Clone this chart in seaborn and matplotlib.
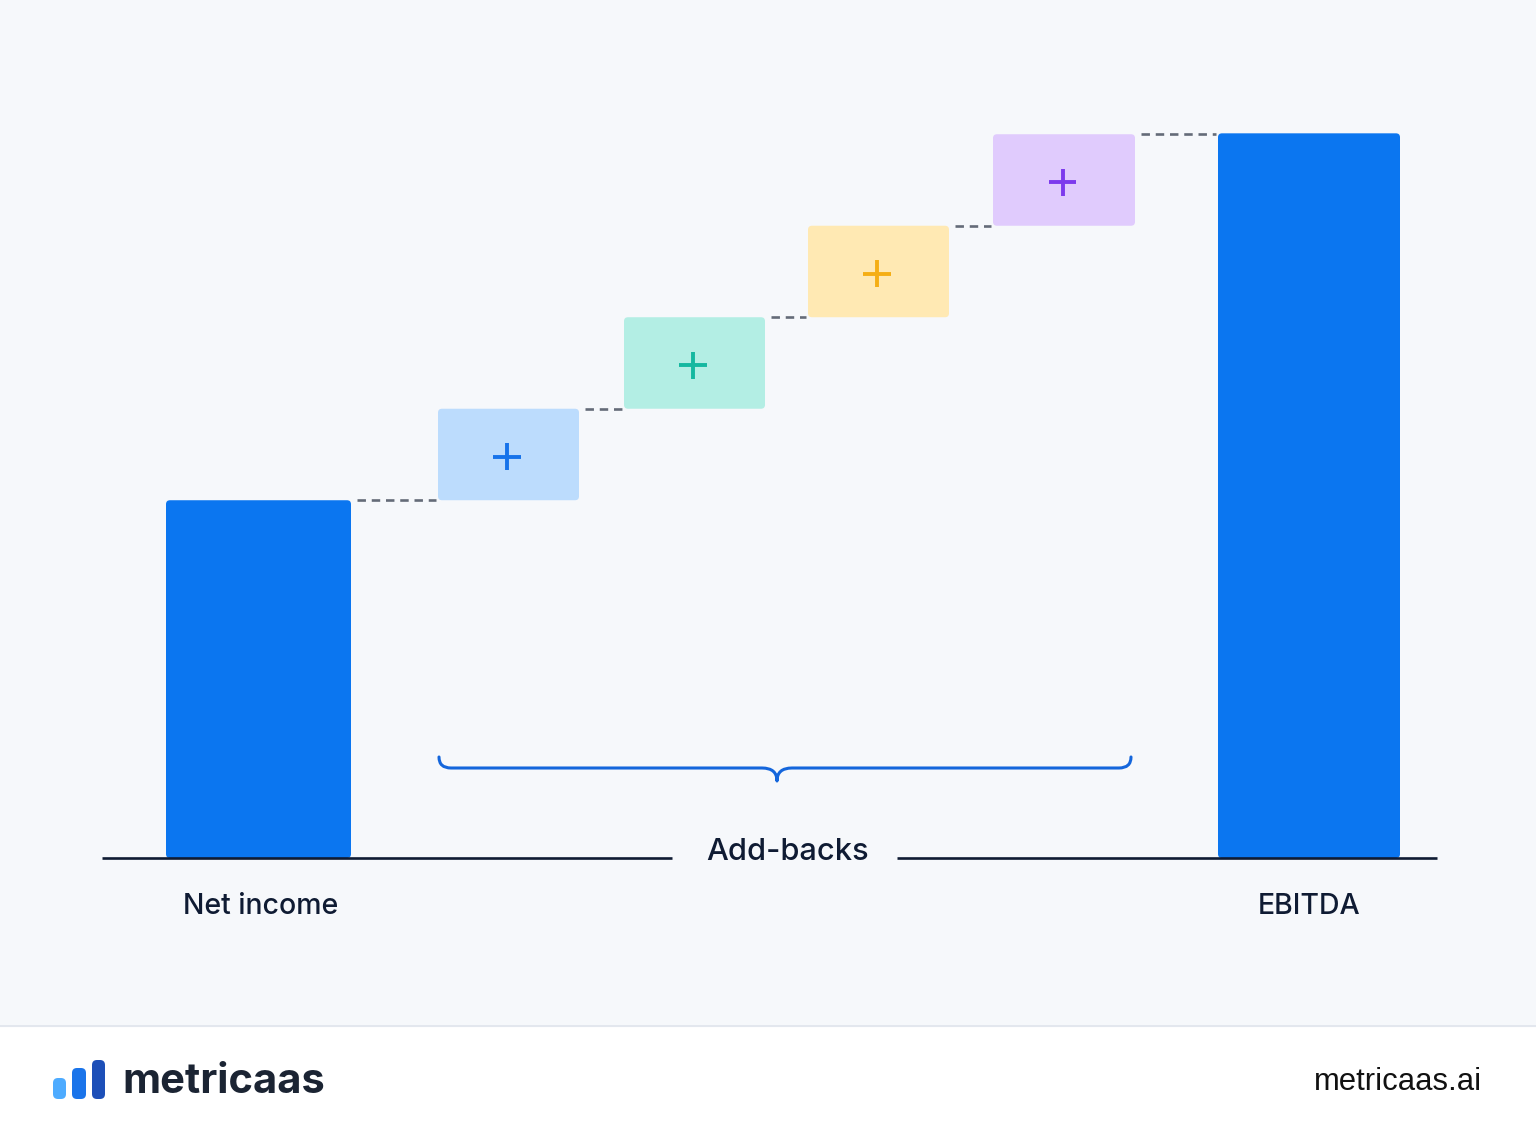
import numpy as np
import pandas as pd
import matplotlib
matplotlib.use("Agg")
import matplotlib.pyplot as plt
import seaborn as sns
from matplotlib.patches import FancyBboxPatch, PathPatch
from matplotlib.path import Path

# ---------------- data ----------------
categories = ["Net income", "Add-back 1", "Add-back 2", "Add-back 3", "Add-back 4", "EBITDA"]
net_income = 39.1
add_backs = [10.0, 10.0, 10.0, 10.0]
ebitda = 79.2
total_labels = ["Net income", "EBITDA"]
group_label = "Add-backs"
add_back_fill = ["#BCDCFD", "#B3EEE4", "#FFE9B3", "#E0CBFD"]
add_back_mark = ["#1673EA", "#14B8A0", "#F5AE14", "#7C3AED"]
brand_name = "metricaas"
brand_url = "metricaas.ai"

# ---------------- layout ----------------
W, H = 1536, 1136
BASE_PX = 858          # baseline, pixels from top
PX_PER_UNIT = 9.15
BG = "#F6F8FB"
BAR_BLUE = "#0B76F0"
INK = "#0F1B33"

def v(ypx):
    return (BASE_PX - ypx) / PX_PER_UNIT

sns.set_theme(style="white")
plt.rcParams["font.family"] = ["Inter", "DejaVu Sans"]

fig = plt.figure(figsize=(W / 100, H / 100), dpi=100)
fig.patch.set_facecolor(BG)
ax = fig.add_axes([0, 0, 1, 1])
ax.set_facecolor("none")
ax.set_xlim(0, W)
ax.set_ylim(v(H), v(0))
ax.axis("off")

# bar geometry (x centres / widths in pixel-x units)
centers = [258.5, 508.5, 694.5, 878.5, 1064, 1309]
widths = [185, 141, 141, 141, 142, 182]

cum = np.cumsum([net_income] + add_backs)
bottoms = [0] + list(cum[:-1]) + [0]
heights = [net_income] + add_backs + [ebitda]
fills = [BAR_BLUE] + add_back_fill + [BAR_BLUE]

df = pd.DataFrame({"cat": categories, "x": centers, "w": widths,
                   "bottom": bottoms, "height": heights, "fill": fills})

bars = ax.bar(df["x"], df["height"], bottom=df["bottom"], width=df["w"],
              color=df["fill"], linewidth=0)
# replace with softly rounded boxes
for b in bars:
    x0, y0 = b.get_x(), b.get_y()
    w, h = b.get_width(), b.get_height()
    fc = b.get_facecolor()
    b.set_visible(False)
    p = FancyBboxPatch((x0, y0), w, h,
                       boxstyle="round,pad=0,rounding_size=4",
                       mutation_aspect=1 / PX_PER_UNIT,
                       facecolor=fc, edgecolor="none", zorder=2)
    ax.add_patch(p)

# connectors (dashed)
tops = [net_income] + list(cum[1:])
for i in range(5):
    right = centers[i] + widths[i] / 2
    left = centers[i + 1] - widths[i + 1] / 2
    ax.plot([right + 6, left - 2], [tops[i], tops[i]], color="#646B78",
            lw=1.9, dashes=(3.2, 2.2), solid_capstyle="butt", zorder=1)

# plus markers in add-back boxes
mids = [bottoms[i + 1] + add_backs[i] / 2 - 0.25 for i in range(4)]
plus_df = pd.DataFrame({"x": [c - 1.5 for c in centers[1:5]], "y": mids, "c": categories[1:5]})
sns.scatterplot(data=plus_df, x="x", y="y", hue="c", palette=add_back_mark,
                marker="+", s=380, linewidth=2.8, legend=False, ax=ax, zorder=3)
ax.set_xlabel("")
ax.set_ylabel("")

# baseline split around the group label
ax.plot([102, 672], [0, 0], color=INK, lw=1.9, solid_capstyle="butt", zorder=4)
ax.plot([897, 1437], [0, 0], color=INK, lw=1.9, solid_capstyle="butt", zorder=4)

ax.text(788, v(852), group_label, ha="center", va="center", fontsize=22.2,
        color=INK, fontweight="medium")
ax.text(261, v(906), total_labels[0], ha="center", va="center", fontsize=20.5,
        color=INK, fontweight="medium")
ax.text(1309, v(906), total_labels[1], ha="center", va="center", fontsize=20.5,
        color=INK, fontweight="medium")

# brace under the add-backs
bx0, bx1, tipx = 439, 1131, 777
by, tipy, endy = 768, 781, 757
verts = [(bx0, endy), (bx0, by), (bx0 + 12, by), (tipx - 15, by), (tipx, by), (tipx, tipy),
         (tipx, by), (tipx + 15, by), (bx1 - 12, by), (bx1, by), (bx1, endy)]
codes = [Path.MOVETO, Path.CURVE3, Path.CURVE3, Path.LINETO, Path.CURVE3, Path.CURVE3,
         Path.CURVE3, Path.CURVE3, Path.LINETO, Path.CURVE3, Path.CURVE3]
verts = [(x, v(y)) for x, y in verts]
ax.add_patch(PathPatch(Path(verts, codes), facecolor="none", edgecolor="#1466DC",
                       lw=2.2, capstyle="round", joinstyle="round", zorder=3))

# ---------------- footer ----------------
FOOT = 1025
fax = fig.add_axes([0, 0, 1, (H - FOOT) / H])
fax.set_xlim(0, W)
fax.set_ylim(H, FOOT)
fax.set_facecolor("white")
for s in fax.spines.values():
    s.set_visible(False)
fax.set_xticks([])
fax.set_yticks([])
fax.axhline(FOOT + 0.5, color="#E3E7EE", lw=1.5)

logo = [(53, 1078, 13, "#4DABFF"), (72, 1068, 14, "#1A74EA"), (92, 1060, 13, "#1D4FB8")]
for x0, ytop, w, c in logo:
    fax.add_patch(FancyBboxPatch((x0, ytop), w, 1099 - ytop,
                                 boxstyle="round,pad=0,rounding_size=5",
                                 facecolor=c, edgecolor="none"))
fax.text(122, 1082, brand_name, ha="left", va="center", fontsize=30,
         fontweight="bold", color="#1B2433")
fax.text(1482, 1082, brand_url, ha="right", va="center", fontsize=22.3,
         color="#111111", family=["Liberation Sans", "DejaVu Sans"])

fig.savefig("out.png", dpi=100, facecolor=fig.get_facecolor())
